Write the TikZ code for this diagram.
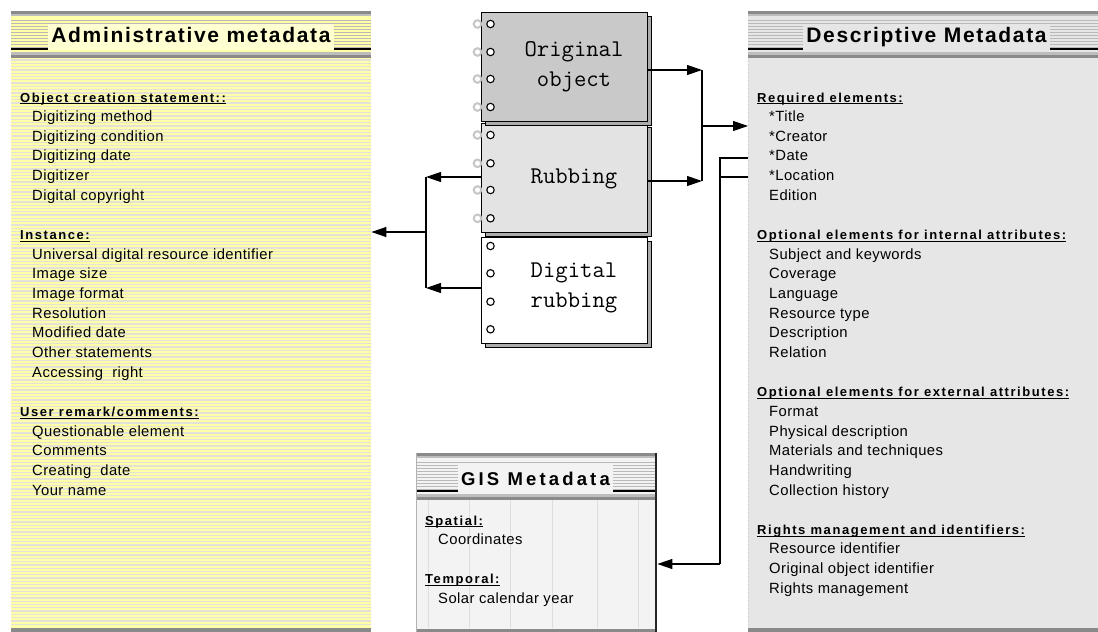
\documentclass[tikz,border=0pt]{standalone}
\usepackage{fontspec}
\setmainfont{Liberation Sans}
\usetikzlibrary{arrows.meta}

\definecolor{admbg}{HTML}{FFFFA8}
\definecolor{admline}{HTML}{E2E2DA}
\definecolor{admtitle}{HTML}{FFFFD2}
\definecolor{descbg}{HTML}{E6E6E6}
\definecolor{gisbg}{HTML}{F3F3F3}
\definecolor{gisgrid}{HTML}{DDDDDD}
\definecolor{origfill}{HTML}{C9C9C9}
\definecolor{rubfill}{HTML}{E3E3E3}
\definecolor{bandlight}{HTML}{BDBDBD}
\definecolor{banddark}{HTML}{8A8A8A}

% underlined section heading, rule sitting just under the baseline
\newcommand\ulhead[1]{\setbox0\hbox{#1}\rlap{\rule[-2.4pt]{\wd0}{1.1pt}}\box0}

% striped title band across the top of a panel: left x, right x, top y
\newcommand\hdrband[3]{%
  \fill[banddark] ({#1},{#3}) rectangle ({#2},{#3+2.5});
  \fill[bandlight] ({#1},{#3+2.5}) rectangle ({#2},{#3+5});
  \foreach \k in {0,...,9}
    \draw[gray!55, line width=0.9pt] ({#1},{#3+9+3*\k}) -- ({#2},{#3+9+3*\k});
  \draw[black, line width=1.2pt] ({#1},{#3+38}) -- ({#2},{#3+38});
  \fill[bandlight] ({#1},{#3+41}) rectangle ({#2},{#3+44});
  \fill[banddark] ({#1},{#3+44}) rectangle ({#2},{#3+47});
}

\begin{document}
\begin{tikzpicture}[x=1pt,y=-1pt,
  item/.style={anchor=base west, inner sep=0pt, font=\fontsize{14.8}{17}\selectfont\addfontfeature{LetterSpace=3}},
  head/.style={anchor=base west, inner sep=0pt, font=\fontsize{13}{15}\selectfont\bfseries\addfontfeature{LetterSpace=12}},
  title/.style={anchor=base, inner sep=0pt, font=\fontsize{21}{24}\selectfont\bfseries\addfontfeature{LetterSpace=8}},
  gistitlefont/.style={anchor=base, inner sep=0pt, font=\fontsize{18.5}{22}\selectfont\bfseries\addfontfeature{LetterSpace=17}},
  page/.style={draw=black, line width=1pt, inner sep=0pt, minimum width=166pt, anchor=north west},
  pageshadow/.style={draw=black, line width=1pt, fill=gray!65},
  ring/.style={draw=black, fill=white, line width=1.1pt},
  ringghost/.style={draw=gray!45, line width=2pt},
  booktext/.style={font=\fontsize{24}{30}\selectfont\ttfamily, align=center, inner sep=0pt},
  panel/.style={inner sep=0pt, anchor=north west},
  arr/.style={-{Triangle[length=15pt,width=10pt]}, line width=1.2pt},
  link/.style={line width=1.2pt},
]
\useasboundingbox (0,0) rectangle (1098,632);
\fill[white] (0,0) rectangle (1098,632);

% ---------- panels ----------
\node[panel, minimum width=360pt, minimum height=621pt] (adm) at (11,11) {};
\node[panel, minimum width=350pt, minimum height=621pt] (desc) at (748,11) {};
\node[panel, minimum width=241pt, minimum height=179pt] (gis) at (416,453) {};

% administrative panel: yellow with grey pinstripes
\fill[admbg] (11,11) rectangle (371,632);
\foreach \yy in {60,63.3,...,627} \draw[admline, line width=1.3pt] (11,\yy) -- (371,\yy);
\fill[banddark] (11,628) rectangle (371,632);
\hdrband{11}{371}{11}
\fill[admtitle] (48,24) rectangle (334,49.6);
\node[title] (admtitle) at (191,42) {Administrative metadata};

% descriptive panel
\fill[descbg] (748,11) rectangle (1098,632);
\draw[gray!35, line width=0.8pt, dash pattern=on 2pt off 2pt] (748.5,60) -- (748.5,628);
\fill[banddark] (748,628) rectangle (1098,632);
\hdrband{748}{1098}{11}
\fill[descbg] (803,24) rectangle (1050,49.6);
\node[title] (desctitle) at (926.5,42) {Descriptive Metadata};

% GIS panel
\fill[gisbg] (416,453) rectangle (657,632);
\foreach \xx in {428,469,510,552,597,638} \draw[gisgrid, line width=0.6pt] (\xx,500) -- (\xx,628);
\hdrband{416}{657}{453}
\fill[gisbg] (458,464) rectangle (613,491.6);
\node[gistitlefont] (gistitle) at (535.5,485) {GIS Metadata};
\fill[banddark] (416,628.5) rectangle (657,632);
\draw[gray!60, line width=0.8pt] (416.4,453) -- (416.4,632);
\draw[gray!30!black, line width=1.6pt] (656,453) -- (656,632);

% ---------- notebook pages ----------
\draw[pageshadow] (485,241) rectangle (651,347);
\node[page, fill=white, minimum height=106pt] (dig) at (481,237) {};
\foreach \yy in {246,273.3,301.7,329.3}
  \draw[ring] (490.5,\yy) circle (3.7);

\draw[pageshadow] (485,127) rectangle (651,236);
\node[page, fill=rubfill, minimum height=109pt] (rub) at (481,123) {};
\foreach \yy in {135,163.3,190,218.3} {
  \draw[ringghost] (477.5,\yy) circle (3.8);
  \draw[ring] (490.5,\yy) circle (3.7);
}

\draw[pageshadow] (485,16) rectangle (651,125);
\node[page, fill=origfill, minimum height=109pt] (orig) at (481,12) {};
\foreach \yy in {24,52,79,107} {
  \draw[ringghost] (477.5,\yy) circle (3.8);
  \draw[ring] (490.5,\yy) circle (3.7);
}

\node[booktext] (origtxt) at (574,67) {Original\\object};
\node[booktext, anchor=base] (rubtxt) at (574,183) {Rubbing};
\node[booktext] (digtxt) at (574,288) {Digital\\rubbing};

% ---------- connectors ----------
\coordinate (jt) at (702,70);
\coordinate (jm) at (702,126);
\coordinate (jb) at (702,181);
\draw[arr] (orig.east |- jt) -- (jt);
\draw[arr] (rub.east |- jb) -- (jb);
\draw[link] (jt) -- (jb);
\draw[arr] (jm) -- (desc.west |- jm);

\coordinate (lt) at (426,177);
\coordinate (lm) at (426,232);
\coordinate (lb) at (426,288);
\draw[arr] (rub.west |- lt) -- (lt);
\draw[arr] (dig.west |- lb) -- (lb);
\draw[link] (lt) -- (lb);
\draw[arr] (lm) -- (adm.east |- lm);

\coordinate (g1) at (720,158);
\coordinate (g2) at (720,177);
\coordinate (g3) at (720,564);
\draw[link] (desc.west |- g1) -- (g1) -- (g3);
\draw[link] (desc.west |- g2) -- (g2);
\draw[arr] (g3) -- (gis.east |- g3);

% ---------- administrative text ----------
\node[head] (admh1) at (20,102) {\ulhead{Object creation statement::}};
\node[head] (admh2) at (20,{102+19.65*7}) {\ulhead{Instance:}};
\node[head] (admh3) at (20,{102+19.65*16}) {\ulhead{User remark/comments:}};
\foreach \n/\t in {1/Digitizing method, 2/Digitizing condition, 3/Digitizing date,
    4/Digitizer, 5/Digital copyright, 8/Universal digital resource identifier,
    9/Image size, 10/Image format, 11/Resolution, 12/Modified date,
    13/Other statements, 14/Accessing\ \ right, 17/Questionable element,
    18/Comments, 19/Creating\ \ date, 20/Your name}
  \node[item] (adm\n) at (32,{102+19.65*\n}) {\t};

% ---------- descriptive text ----------
\node[head] (desch1) at (757,102) {\ulhead{Required elements:}};
\node[head] (desch2) at (757,{102+19.65*7}) {\ulhead{Optional elements for internal attributes:}};
\node[head] (desch3) at (757,{102+19.65*15}) {\ulhead{Optional elements for external attributes:}};
\node[head] (desch4) at (757,{102+19.65*22}) {\ulhead{Rights management and identifiers:}};
\foreach \n/\t in {1/*Title, 2/*Creator, 3/*Date, 4/*Location, 5/Edition,
    8/Subject and keywords, 9/Coverage, 10/Language, 11/Resource type,
    12/Description, 13/Relation, 16/Format, 17/Physical description,
    18/Materials and techniques, 19/Handwriting, 20/Collection history,
    23/Resource identifier, 24/Original object identifier, 25/Rights management}
  \node[item] (desc\n) at (769,{102+19.65*\n}) {\t};

% ---------- GIS text ----------
\node[head] (gish1) at (425,525) {\ulhead{Spatial:}};
\node[item] (gis1) at (438,544.5) {Coordinates};
\node[head] (gish2) at (425,583.5) {\ulhead{Temporal:}};
\node[item] (gis2) at (438,603) {Solar calendar year};
\end{tikzpicture}
\end{document}
